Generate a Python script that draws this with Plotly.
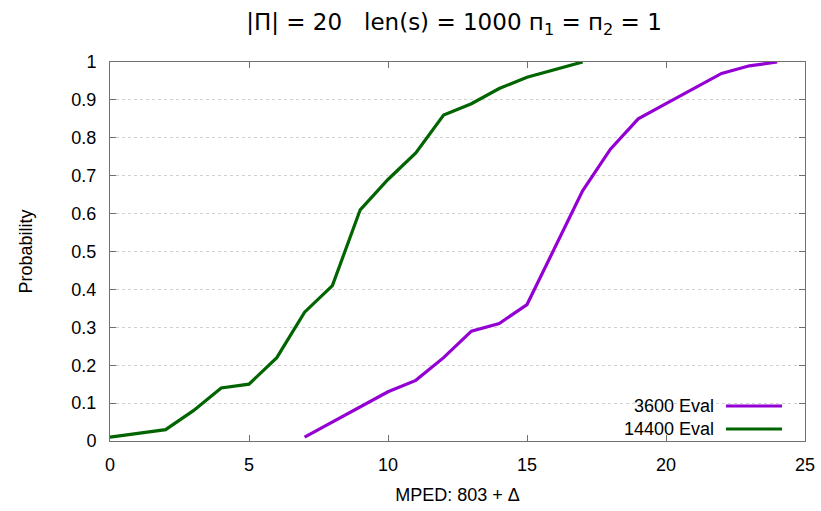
import plotly.graph_objects as go

x_3600 = [7, 8, 9, 10, 11, 12, 13, 14, 15, 16, 17, 18, 19, 20, 21, 22, 23, 24]
y_3600 = [0.01, 0.05, 0.09, 0.13, 0.16, 0.22, 0.29, 0.31, 0.36, 0.51, 0.66, 0.77, 0.85, 0.89, 0.93, 0.97, 0.99, 1.0]

x_14400 = [0, 1, 2, 3, 4, 5, 6, 7, 8, 9, 10, 11, 12, 13, 14, 15, 16, 17]
y_14400 = [0.01, 0.02, 0.03, 0.08, 0.14, 0.15, 0.22, 0.34, 0.41, 0.61, 0.69, 0.76, 0.86, 0.89, 0.93, 0.96, 0.98, 1.0]

names = ["3600 Eval", "14400 Eval"]
colors = ["#9400D3", "#006400"]

x_ticks = [0, 5, 10, 15, 20, 25]
y_ticks = [0, 0.1, 0.2, 0.3, 0.4, 0.5, 0.6, 0.7, 0.8, 0.9, 1]
y_tick_text = ["0", "0.1", "0.2", "0.3", "0.4", "0.5", "0.6", "0.7", "0.8", "0.9", "1"]

fig = go.Figure()
for xs, ys, nm, c in [(x_3600, y_3600, names[0], colors[0]), (x_14400, y_14400, names[1], colors[1])]:
    fig.add_trace(go.Scatter(x=xs, y=ys, mode="lines", name=nm,
                             line=dict(color=c, width=3.2), showlegend=False))

tick_font = dict(family="Liberation Sans, Arial, sans-serif", size=18, color="#000000")

L, R, T, B = 110, 16, 62, 70
fig.update_layout(
    width=821, height=511,
    margin=dict(l=L, r=R, t=T, b=B, autoexpand=False),
    paper_bgcolor="white", plot_bgcolor="white",
    showlegend=False,
    title=dict(text="|П| = 20&nbsp;&nbsp; len(s) = 1000 п<sub>1</sub> = п<sub>2</sub> = 1",
               x=454 / 821, xanchor="center", xref="container",
               y=1 - 22 / 511, yanchor="middle",
               font=dict(family="DejaVu Sans, Verdana, sans-serif", size=23, color="#000000")),
    xaxis=dict(range=[0, 25], tickvals=x_ticks, ticks="inside", ticklen=6, tickcolor="#707070",
               showline=True, linecolor="#707070", linewidth=1, mirror="allticks",
               showgrid=False, zeroline=False, tickfont=tick_font, ticklabelstandoff=7,
               automargin=False,
               title=dict(text="MPED: 803 + Δ", font=tick_font, standoff=14)),
    yaxis=dict(range=[0, 1], tickvals=y_ticks, ticktext=y_tick_text, ticks="inside", ticklen=6,
               tickcolor="#707070", showline=True, linecolor="#707070", linewidth=1, mirror="allticks",
               showgrid=True, gridcolor="#d2d2d2", griddash="dot", gridwidth=1, zeroline=False,
               tickfont=tick_font, ticklabelstandoff=9, automargin=False,
               title=dict(text="Probability", font=tick_font, standoff=34)),
)

W = 821 - L - R
def px(p):
    return (p - L) / W

# legend (gnuplot style: text right-aligned, sample to the right)
fig.add_shape(type="rect", xref="paper", yref="paper", x0=px(598), x1=px(798), y0=0.005, y1=0.135,
              fillcolor="white", line=dict(width=0), layer="below")
for i, (nm, c) in enumerate(zip(names, colors)):
    yy = (441 - (406 + 23 * i)) / 379
    fig.add_annotation(text=nm, xref="paper", yref="paper", x=px(716), y=yy, xanchor="right",
                       yanchor="middle", showarrow=False, font=tick_font)
    fig.add_shape(type="line", xref="paper", yref="paper", x0=px(726), x1=px(782), y0=yy, y1=yy,
                  line=dict(color=c, width=3.2))

fig.write_html("out.html")
